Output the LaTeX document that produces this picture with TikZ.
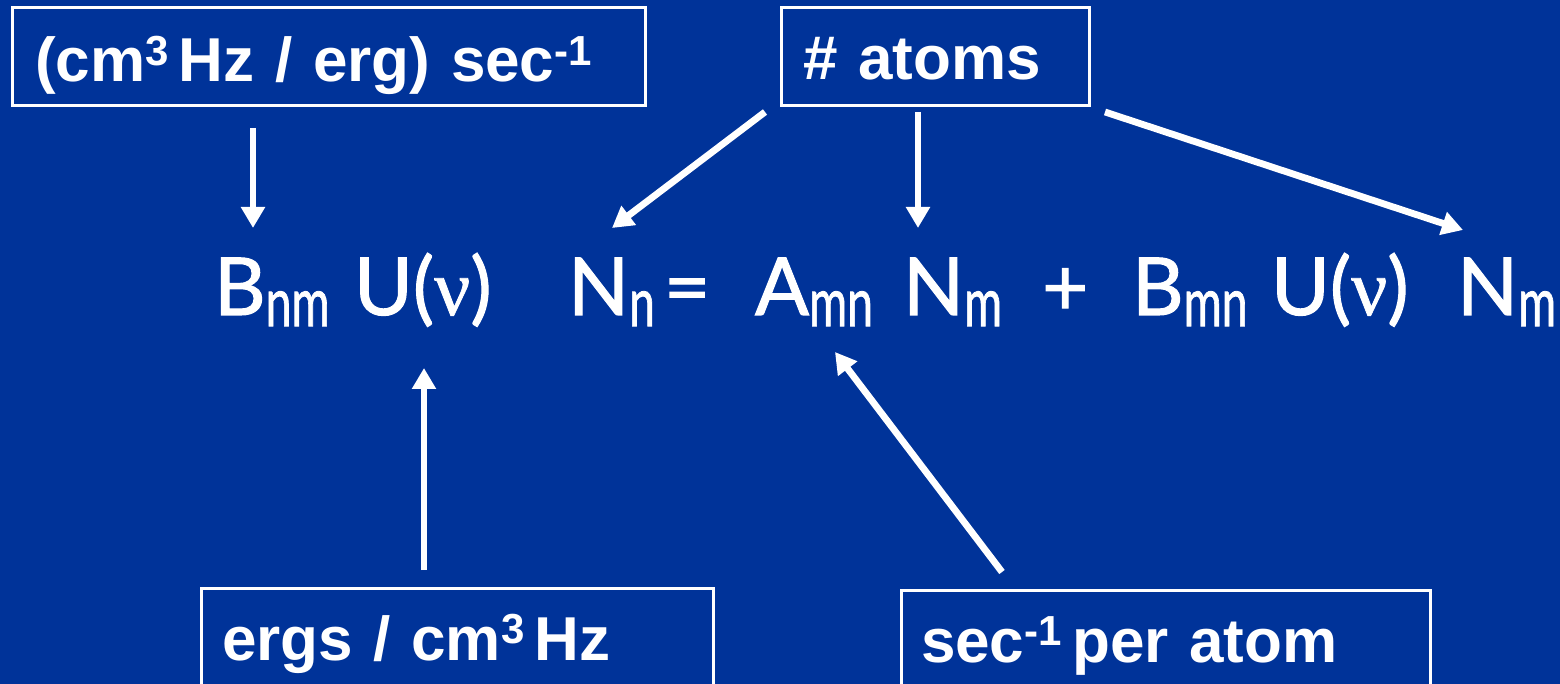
\documentclass[tikz,border=0pt]{standalone}
\usepackage{fontspec}
\usetikzlibrary{arrows.meta}
\newfontfamily\boxfont{Liberation Sans}
\newfontfamily\eqfont{Lato}[FakeBold=1.3]
\newfontfamily\nufont{Liberation Serif}[FakeBold=1]
\definecolor{bg}{RGB}{0,51,153}
\newcommand\supx[1]{\raisebox{0.26em}{\fontsize{21}{21}\selectfont #1}}
\newcommand\eqsub[1]{\raisebox{-0.14em}{\scalebox{0.68}[1]{\fontsize{34}{34}\selectfont #1}}}
\newcommand\nuu{{\nufont ν}}
\begin{document}
\begin{tikzpicture}[x=0.5pt,y=-0.5pt,
  box/.style={draw=white, line width=1.5pt, fill=bg, text=white, inner ysep=0pt,
    outer sep=0pt, anchor=north west, align=left,
    font=\boxfont\bfseries\fontsize{31}{36}\selectfont},
  eqn/.style={text=white, inner sep=0pt, outer sep=0pt, anchor=base west,
    font=\eqfont\fontsize{40}{40}\selectfont},
  arr/.style={draw=white, line width=3.4pt, -{Triangle[length=10.5pt,width=11.5pt]}}]
\clip (0,0) rectangle (1560,684);
\fill[bg] (0,0) rectangle (1560,684);

% boxes
\node[box, inner xsep=11.5pt, text width=293.5pt, text height=37pt, text depth=12pt]
  (b1) at (12,8) {(cm\supx{3}\,Hz / erg) sec\supx{-1}};
\node[box, inner xsep=11pt, text width=132pt, text height=36pt, text depth=13pt]
  (b2) at (781,8) {\# atoms};
\node[box, inner xsep=10.5pt, text width=235pt, text height=36pt, text depth=40pt]
  (b3) at (201,588) {ergs / cm\supx{3}\,Hz};
\node[box, inner xsep=10pt, text width=244.5pt, text height=36pt, text depth=39pt]
  (b4) at (901,590) {sec\supx{-1}\,per atom};

% equation terms
\node[eqn] (Bnm) at (214,315) {B\eqsub{nm}};
\node[eqn] (Uv1) at (354,315) {U(\nuu)};
\node[eqn] (Nn)  at (568,315) {N\eqsub{n}};
\node[eqn] (eq)  at (664,315) {=};
\node[eqn] (Amn) at (755,315) {A\eqsub{mn}};
\node[eqn] (Nm1) at (903,315) {N\eqsub{m}};
\node[eqn] (pl)  at (1042,315) {+};
\node[eqn] (Bmn) at (1132,315) {B\eqsub{mn}};
\node[eqn] (Uv2) at (1271,315) {U(\nuu)};
\node[eqn] (Nm2) at (1457,315) {N\eqsub{m}};

% arrows
\draw[arr] ([shift={(241,22)}]b1.south west) -- ([shift={(39,-87)}]Bnm.base west);
\draw[arr] ([shift={(-16,6)}]b2.south west) -- ([shift={(44,-87)}]Nn.base west);
\draw[arr] ([shift={(137,6)}]b2.south west) -- ([shift={(15,-87)}]Nm1.base west);
\draw[arr] ([shift={(16,6)}]b2.south east) -- ([shift={(6,-85)}]Nm2.base west);
\draw[arr] ([shift={(223,-18)}]b3.north west) -- ([shift={(70,53)}]Uv1.base west);
\draw[arr] ([shift={(101,-18)}]b4.north west) -- ([shift={(80,37)}]Amn.base west);
\end{tikzpicture}
\end{document}
